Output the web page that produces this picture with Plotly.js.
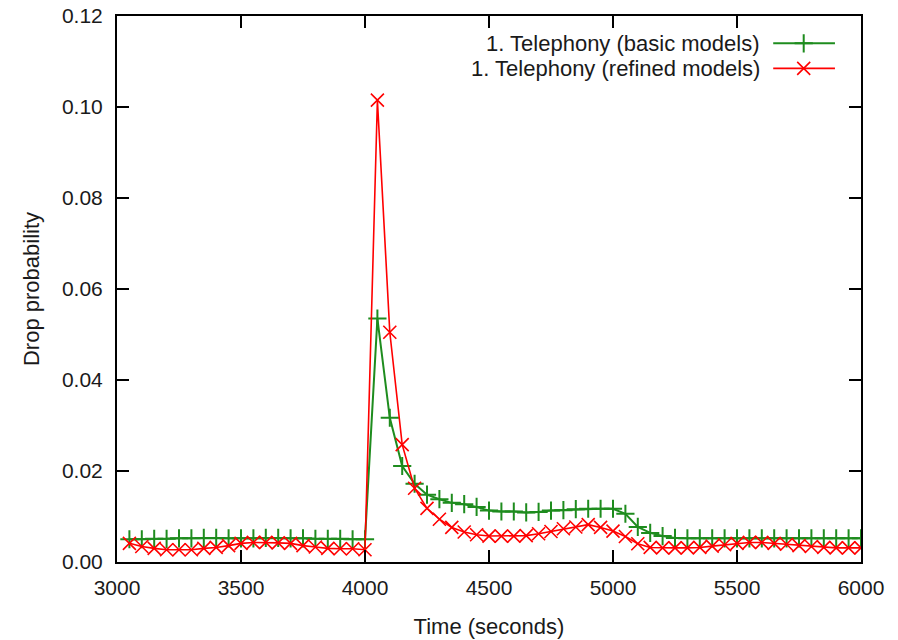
<!DOCTYPE html>
<html>
<head>
<meta charset="utf-8">
<script src="https://cdn.plot.ly/plotly-3.0.1.min.js"></script>
<style>html,body{margin:0;padding:0;background:#fff;}#chart{width:898px;height:640px;}</style>
</head>
<body>
<div id="chart"></div>
<script>
// Time (seconds)
const timeSec = [3050,3100,3150,3200,3250,3300,3350,3400,3450,3500,3550,3600,3650,3700,3750,3800,3850,3900,3950,4000,
  4050,4100,4150,4200,4250,4300,4350,4400,4450,4500,4550,4600,4650,4700,4750,4800,4850,4900,4950,5000,
  5050,5100,5150,5200,5250,5300,5350,5400,5450,5500,5550,5600,5650,5700,5750,5800,5850,5900,5950,6000];

// 1. Telephony (basic models)
const basicModels = [0.0050,0.0050,0.0051,0.0051,0.0052,0.0052,0.0053,0.0053,0.0052,0.0052,0.0052,0.0053,0.0053,0.0052,0.0052,0.0051,0.0051,0.0051,0.0050,0.0050,
  0.0535,0.0317,0.0211,0.0172,0.0148,0.0138,0.0130,0.0127,0.0121,0.0113,0.0111,0.0111,0.0109,0.0110,0.0113,0.0114,0.0116,0.0117,0.0117,0.0117,
  0.0106,0.0077,0.0064,0.0057,0.0053,0.0052,0.0052,0.0052,0.0052,0.0052,0.0052,0.0052,0.0052,0.0052,0.0052,0.0052,0.0052,0.0052,0.0052,0.0052];

// 1. Telephony (refined models)
const refinedModels = [0.0041,0.0034,0.0030,0.0027,0.0027,0.0027,0.0030,0.0032,0.0036,0.0041,0.0043,0.0043,0.0042,0.0041,0.0036,0.0033,0.0030,0.0029,0.0029,0.0027,
  0.1015,0.0505,0.0258,0.0162,0.0118,0.0094,0.0076,0.0066,0.0060,0.0057,0.0057,0.0057,0.0058,0.0062,0.0067,0.0073,0.0077,0.0082,0.0076,0.0068,
  0.0056,0.0040,0.0032,0.0031,0.0031,0.0031,0.0032,0.0035,0.0038,0.0041,0.0043,0.0043,0.0041,0.0039,0.0036,0.0034,0.0032,0.0031,0.0031,0.0031];

const seriesNames = ["1. Telephony (basic models)", "1. Telephony (refined models)"];
const seriesColors = ["rgb(30,140,30)", "rgb(255,0,0)"];

const FONT = "Liberation Sans, Arial, Helvetica, sans-serif";
const TXT = "#1a1a1a";

const mkBasic = {symbol: "cross-thin-open", size: 13, color: seriesColors[0], line: {color: seriesColors[0], width: 2}};
const mkRefined = {symbol: "x-thin-open", size: 13, color: seriesColors[1], line: {color: seriesColors[1], width: 1.6}};

const traces = [
  {x: timeSec, y: basicModels, name: seriesNames[0], type: "scatter", mode: "lines+markers",
   line: {color: seriesColors[0], width: 2}, marker: mkBasic, showlegend: false},
  {x: timeSec, y: refinedModels, name: seriesNames[1], type: "scatter", mode: "lines+markers",
   line: {color: seriesColors[1], width: 1.6}, marker: mkRefined, showlegend: false},
  // legend samples (drawn on an overlay axis in [0,1] units)
  {x: [0.882, 0.965], y: [0.950, 0.950], xaxis: "x2", yaxis: "y2", mode: "lines", hoverinfo: "skip",
   line: {color: seriesColors[0], width: 2}, showlegend: false},
  {x: [0.923], y: [0.950], xaxis: "x2", yaxis: "y2", mode: "markers", hoverinfo: "skip",
   marker: mkBasic, showlegend: false},
  {x: [0.882, 0.965], y: [0.904, 0.904], xaxis: "x2", yaxis: "y2", mode: "lines", hoverinfo: "skip",
   line: {color: seriesColors[1], width: 1.6}, showlegend: false},
  {x: [0.923], y: [0.904], xaxis: "x2", yaxis: "y2", mode: "markers", hoverinfo: "skip",
   marker: mkRefined, showlegend: false}
];

const layout = {
  width: 898, height: 640,
  margin: {l: 117, r: 37, t: 16, b: 78, pad: 0},
  paper_bgcolor: "#fff", plot_bgcolor: "#fff",
  font: {family: FONT, size: 21, color: TXT},
  showlegend: false,
  xaxis: {
    range: [3000, 6000], dtick: 500, tick0: 3000,
    ticks: "inside", ticklen: 12, tickwidth: 1.5, tickcolor: "#000",
    showline: true, linecolor: "#000", linewidth: 2, mirror: "ticks",
    showgrid: false, zeroline: false,
    tickfont: {family: FONT, size: 21, color: TXT},
    ticklabelstandoff: 6,
    title: {text: "Time (seconds)", font: {family: FONT, size: 22, color: TXT}, standoff: 20}
  },
  yaxis: {
    range: [0, 0.12], dtick: 0.02, tick0: 0, tickformat: ".2f",
    ticks: "inside", ticklen: 12, tickwidth: 1.5, tickcolor: "#000",
    showline: true, linecolor: "#000", linewidth: 2, mirror: "ticks",
    showgrid: false, zeroline: false,
    tickfont: {family: FONT, size: 21, color: TXT},
    ticklabelstandoff: 8,
    title: {text: "Drop probability", font: {family: FONT, size: 22, color: TXT}, standoff: 16}
  },
  xaxis2: {overlaying: "x", range: [0, 1], visible: false, fixedrange: true},
  yaxis2: {overlaying: "y", range: [0, 1], visible: false, fixedrange: true},
  annotations: [
    {xref: "paper", yref: "paper", x: 0.867, y: 0.950, xanchor: "right", yanchor: "middle",
     text: seriesNames[0], showarrow: false, font: {family: FONT, size: 22, color: TXT}},
    {xref: "paper", yref: "paper", x: 0.867, y: 0.904, xanchor: "right", yanchor: "middle",
     text: seriesNames[1], showarrow: false, font: {family: FONT, size: 22, color: TXT}}
  ]
};

Plotly.newPlot("chart", traces, layout, {displayModeBar: false, staticPlot: true});
</script>
</body>
</html>
